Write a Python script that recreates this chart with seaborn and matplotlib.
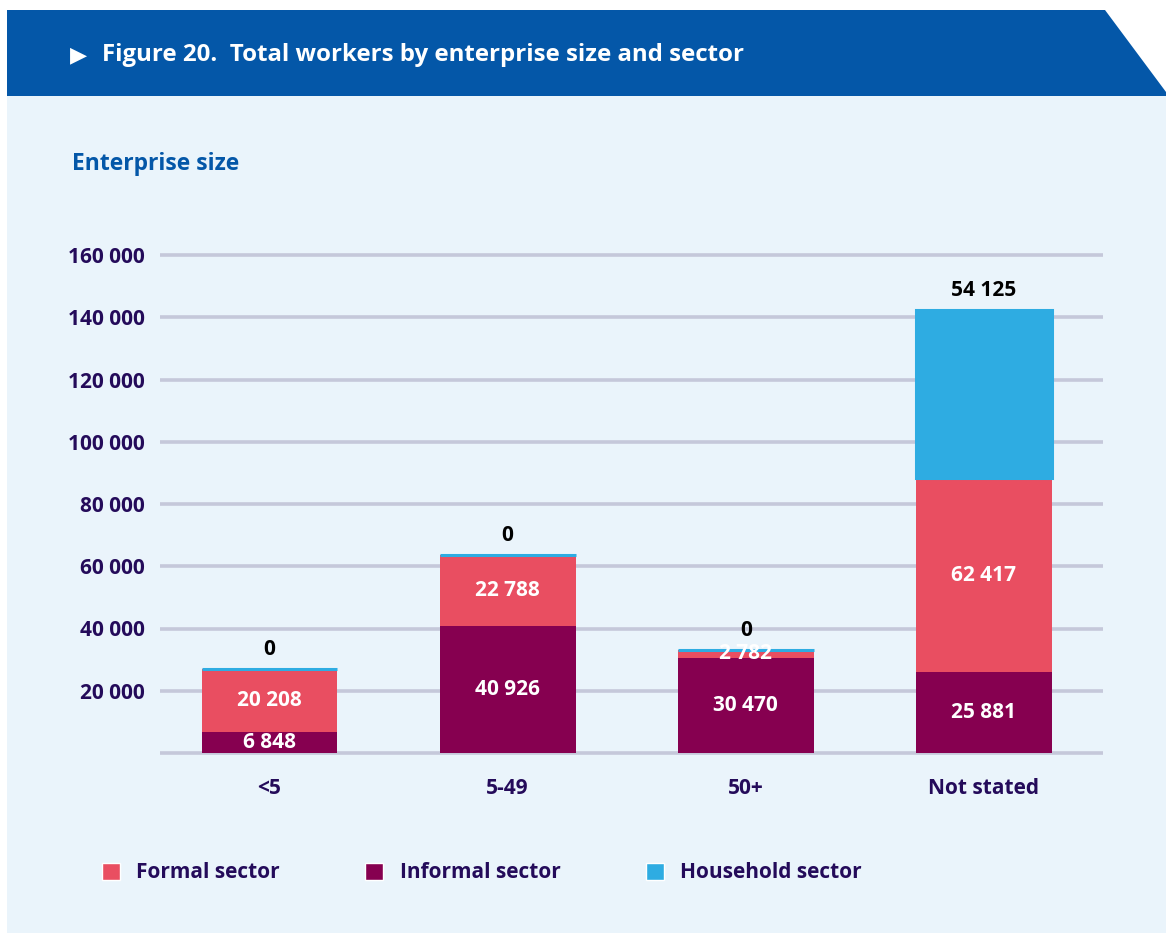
import numpy as np
import pandas as pd
import matplotlib
matplotlib.use("Agg")
import matplotlib.pyplot as plt
from matplotlib.patches import Polygon, Rectangle, Patch
import seaborn as sns

# Workers by enterprise size and sector
categories = ["<5", "5-49", "50+", "Not stated"]
informal = [6848, 40926, 30470, 25881]
formal = [20208, 22788, 2782, 62417]
household = [0, 0, 0, 54125]
y_ticks = [20000, 40000, 60000, 80000, 100000, 120000, 140000, 160000]

C_FORMAL = "#E94E61"
C_INFORMAL = "#860050"
C_HOUSE = "#2EACE2"
C_BG = "#EAF4FB"
C_BANNER = "#0457A8"
C_TEXT = "#240B5A"
C_GRID = "#C5C8DA"

sns.set_theme(style="white")
plt.rcParams["font.family"] = ["Open Sans", "DejaVu Sans"]
plt.rcParams["font.weight"] = "bold"

W, H = 1166, 933
fig = plt.figure(figsize=(W / 100, H / 100), dpi=100)
fig.patch.set_facecolor("white")

def fx(px):
    return px / W

def fy(py):
    return 1 - py / H

# panel background and title banner
fig.patches.append(Rectangle((fx(7), 0), 1 - fx(7), fy(96), transform=fig.transFigure,
                             facecolor=C_BG, edgecolor="none", zorder=-10))
banner = [(fx(7), fy(10)), (fx(1105), fy(10)), (fx(1166), fy(92)),
          (fx(1166), fy(96)), (fx(7), fy(96))]
fig.patches.append(Polygon(banner, closed=True, transform=fig.transFigure,
                           facecolor=C_BANNER, edgecolor="none", zorder=-9))
fig.text(fx(70), fy(55), "\u25B6", color="white", fontsize=16, va="center", ha="left",
         family=["DejaVu Sans"])
fig.text(fx(102), fy(55), "Figure 20.  Total workers by enterprise size and sector",
         color="white", fontsize=17.3, fontweight="bold", va="center", ha="left")
fig.text(fx(72), fy(164), "Enterprise size", color=C_BANNER, fontsize=16.5,
         fontweight="bold", va="center", ha="left")

# axes placement
ymin, ymax = -1000, 161000
ppu = (753 - 255) / 160000
bot_px = 753 + (0 - ymin) * ppu
top_px = 255 - (ymax - 160000) * ppu
ax = fig.add_axes([fx(160), fy(bot_px), fx(1103) - fx(160), fy(top_px) - fy(bot_px)])
ax.set_facecolor("none")

df = pd.DataFrame({"size": categories, "informal": informal,
                   "formal": formal, "household": household})
df["base_formal"] = df["informal"]
df["base_house"] = df["informal"] + df["formal"]

bw = 0.57
sns.barplot(data=df, x="size", y="informal", color=C_INFORMAL, width=bw,
            saturation=1, ax=ax, linewidth=0, zorder=3)
sns.barplot(data=df, x="size", y="formal", color=C_FORMAL, width=bw,
            saturation=1, ax=ax, linewidth=0, zorder=3,
            bottom=df["base_formal"].to_numpy())
sns.barplot(data=df, x="size", y="household", color=C_HOUSE, width=bw,
            saturation=1, ax=ax, edgecolor=C_HOUSE, linewidth=2.2, zorder=4,
            bottom=df["base_house"].to_numpy())

ax.set_xlim(-0.46, 3.5)
ax.set_ylim(ymin, ymax)
for v in [0] + y_ticks:
    ax.axhline(v, color=C_GRID, linewidth=2.6, zorder=1)
ax.set_yticks(y_ticks)
ax.set_yticklabels([f"{v:,}".replace(",", " ") for v in y_ticks])
for s in ax.spines.values():
    s.set_visible(False)
ax.tick_params(axis="y", length=0, pad=11, labelsize=15, labelcolor=C_TEXT)
ax.tick_params(axis="x", length=0, pad=16, labelsize=15, labelcolor=C_TEXT)
for lab in ax.get_yticklabels() + ax.get_xticklabels():
    lab.set_fontweight("bold")
ax.set_xlabel("")
ax.set_ylabel("")

def fmt(v):
    return f"{v:,}".replace(",", " ")

for i in range(len(categories)):
    ax.text(i, informal[i] / 2, fmt(informal[i]), color="white", fontsize=15,
            fontweight="bold", ha="center", va="center", zorder=6)
    ax.text(i, informal[i] + formal[i] / 2, fmt(formal[i]), color="white", fontsize=15,
            fontweight="bold", ha="center", va="center", zorder=6)
    top = informal[i] + formal[i] + household[i]
    ax.annotate(fmt(household[i]), (i, top), xytext=(0, 6), textcoords="offset points",
                color="black", fontsize=15, fontweight="bold", ha="center", va="bottom",
                zorder=6)

# legend
handles = [Patch(facecolor=C_FORMAL, label="Formal sector"),
           Patch(facecolor=C_INFORMAL, label="Informal sector"),
           Patch(facecolor=C_HOUSE, label="Household sector")]
leg = fig.legend(handles=handles, loc="center left", bbox_to_anchor=(fx(102), fy(873)),
                 ncol=3, frameon=False, handlelength=0.85, handleheight=0.85,
                 handletextpad=0.8, columnspacing=4.1, fontsize=15,
                 borderpad=0, borderaxespad=0)
for t in leg.get_texts():
    t.set_color(C_TEXT)
    t.set_fontweight("bold")

fig.savefig("out.png", dpi=100, facecolor=fig.get_facecolor())
